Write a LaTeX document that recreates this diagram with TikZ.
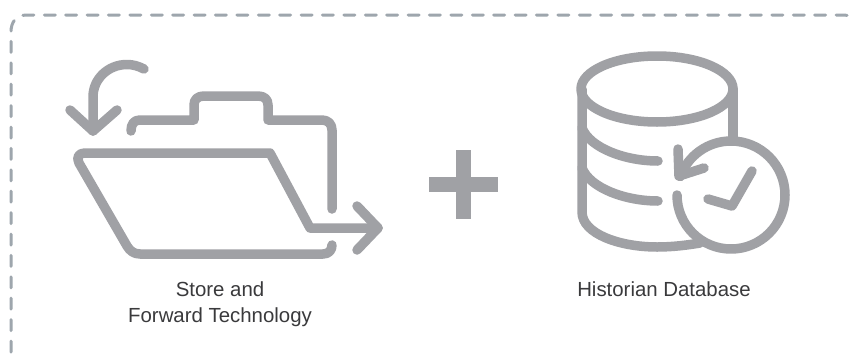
\documentclass[tikz,border=0pt]{standalone}
\usepackage{fontspec}
\setmainfont{Liberation Sans}
\definecolor{icon}{HTML}{A0A1A5}
\definecolor{dashc}{HTML}{9EA6AD}
\definecolor{txt}{HTML}{3A3A3C}
\tikzset{
  iconline/.style={draw=icon,line width=9.5pt,line cap=round,line join=round},
  frameline/.style={draw=dashc,line width=3pt,line cap=round,dash pattern=on 11pt off 10.4pt},
  caption/.style={text=txt,font=\fontsize{20.4}{26}\selectfont,align=center,inner sep=0pt,anchor=base}
}
\begin{document}
\begin{tikzpicture}[x=1pt,y=-1pt]
\useasboundingbox (0,0) rectangle (851,359);
\fill[white] (0,0) rectangle (851,359);
% frame
\draw[frameline] (11,352) -- (11,32) .. controls (11,22) and (16,15) .. (27,15) -- (843,15) .. controls (846,15) and (849,15.5) .. (851,16.5);
% curved arrow
\draw[iconline] (144,69) .. controls (138,66) and (133,64.5) .. (127,64.5) .. controls (108,64.5) and (93,79) .. (93,97) -- (93,131);
\draw[iconline] (70,110) -- (93,131) -- (117,110);
% folder back
\draw[iconline] (131,131) .. controls (131,124) and (134,120) .. (140,120) -- (194,120) -- (194,105) .. controls (194,99) and (198,96) .. (204,96) -- (258,96) .. controls (264,96) and (268,99) .. (268,105) -- (268,120) -- (322,120) .. controls (328,120) and (332,124) .. (332,130) -- (332,209);
% folder front
\draw[iconline] (332,245) .. controls (332,250) and (329,254) .. (323,254) -- (140,254) .. controls (134,254) and (130,251) .. (127,246) -- (79,163) .. controls (76,157) and (79,153) .. (85,153) -- (270,153) -- (310,228) -- (378,228);
\draw[iconline] (357,206) -- (378,228) -- (357,250);
% plus
\fill[icon] (456,150) rectangle (471,219);
\fill[icon] (429,177) rectangle (498,192);
% database
\draw[iconline] (657,89) ellipse [x radius=76pt,y radius=33pt];
\draw[iconline] (582,89) -- (582,212) .. controls (582,234) and (620,247) .. (657,247) .. controls (673,247) and (688,245) .. (700,243);
\draw[iconline] (733,89) -- (733,137);
\draw[iconline] (582,128) .. controls (590,148) and (625,161) .. (658,161);
\draw[iconline] (582,168) .. controls (590,188) and (625,201) .. (658,201);
% clock arrow
\draw[iconline] (677,195) arc [start angle=180,end angle=520,radius=54pt];
\draw[iconline] (678,149) -- (679,176) -- (704,168);
\draw[iconline] (708,199) -- (732,206) -- (752,171);
% captions
\node[caption] (storelabel) at (220,322) {Store and\\Forward Technology};
\node[caption] (histlabel) at (664,296) {Historian Database};
\end{tikzpicture}
\end{document}
